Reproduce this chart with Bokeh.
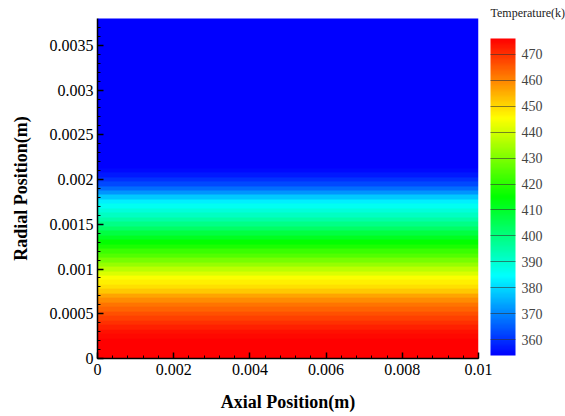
import numpy as np
from bokeh.plotting import figure
from bokeh.models import LinearColorMapper, ColorBar, FixedTicker, Title
from bokeh.embed import file_html
from bokeh.resources import INLINE

# ---- data (temperature vs radial position) ----
radial_m = [0.00000, 0.00005, 0.00010, 0.00015, 0.00020, 0.00025, 0.00030, 0.00035,
            0.00040, 0.00045, 0.00050, 0.00055, 0.00060, 0.00065, 0.00070, 0.00075,
            0.00080, 0.00085, 0.00090, 0.00095, 0.00100, 0.00105, 0.00110, 0.00115,
            0.00120, 0.00125, 0.00130, 0.00135, 0.00140, 0.00145, 0.00150, 0.00155,
            0.00160, 0.00165, 0.00170, 0.00175, 0.00180, 0.00185, 0.00190, 0.00195,
            0.00200, 0.00205, 0.00210, 0.00215, 0.00220, 0.00225, 0.00230, 0.00235,
            0.00240, 0.00245, 0.00250, 0.00255, 0.00260, 0.00265, 0.00270, 0.00275,
            0.00280, 0.00285, 0.00290, 0.00295, 0.00300, 0.00305, 0.00310, 0.00315,
            0.00320, 0.00325, 0.00330, 0.00335, 0.00340, 0.00345, 0.00350, 0.00355,
            0.00360, 0.00365, 0.00370, 0.00375, 0.00380]
temperature_k = [476, 476, 476, 476, 476, 475, 474, 472,
                 470, 468, 466, 464, 462, 459, 456, 452,
                 449, 447, 445, 441, 437, 433, 429, 425,
                 422, 418, 415, 411, 407, 403, 399, 395,
                 392, 389, 386, 383, 378, 372, 367, 363,
                 360, 357, 355, 354, 354, 354, 354, 354,
                 354, 354, 354, 354, 354, 354, 354, 354,
                 354, 354, 354, 354, 354, 354, 354, 354,
                 354, 354, 354, 354, 354, 354, 354, 354,
                 354, 354, 354, 354, 354]
axial_length_m = 0.01
radial_max_m = 0.0038
x_ticks = [0, 0.002, 0.004, 0.006, 0.008, 0.01]
x_tick_labels = ["0", "0.002", "0.004", "0.006", "0.008", "0.01"]
y_ticks = [0, 0.0005, 0.001, 0.0015, 0.002, 0.0025, 0.003, 0.0035]
y_tick_labels = ["0", "0.0005", "0.001", "0.0015", "0.002", "0.0025", "0.003", "0.0035"]
cbar_ticks = [360, 370, 380, 390, 400, 410, 420, 430, 440, 450, 460, 470]
cbar_tick_labels = ["360", "370", "380", "390", "400", "410", "420", "430",
                    "440", "450", "460", "470"]
t_low, t_high = 354, 476

# ---- rainbow palette: blue -> cyan -> green -> yellow -> red ----
stops = [(0, 0, 255), (0, 255, 255), (0, 255, 0), (255, 255, 0), (255, 0, 0)]
palette = []
n = 256
for i in range(n):
    f = i / (n - 1) * (len(stops) - 1)
    k = min(int(f), len(stops) - 2)
    t = f - k
    c = [round(stops[k][j] + (stops[k + 1][j] - stops[k][j]) * t) for j in range(3)]
    palette.append("#%02x%02x%02x" % tuple(c))

mapper = LinearColorMapper(palette=palette, low=t_low, high=t_high)

FONT = "Liberation Serif"

p = figure(width=565, height=416, output_backend="svg", toolbar_location=None,
           x_range=(0, axial_length_m), y_range=(0, radial_max_m),
           min_border_left=97, min_border_right=87, min_border_top=18,
           min_border_bottom=58)
p.grid.visible = False
p.outline_line_color = None
p.background_fill_color = "white"

field = np.array(temperature_k, dtype=float)[:, None] * np.ones((1, 2))
dr = radial_m[1] - radial_m[0]
p.image(image=[field], x=0, y=radial_m[0] - dr / 2, dw=axial_length_m,
        dh=len(radial_m) * dr, color_mapper=mapper)

# axes
p.xaxis.ticker = FixedTicker(ticks=x_ticks,
                             minor_ticks=list(np.arange(0, 0.01001, 0.0004)))
p.xaxis.major_label_overrides = {t: l for t, l in zip(x_ticks, x_tick_labels)}
p.yaxis.ticker = FixedTicker(ticks=y_ticks,
                             minor_ticks=list(np.arange(0, 0.0038, 0.0001)))
p.yaxis.major_label_overrides = {t: l for t, l in zip(y_ticks, y_tick_labels)}

for ax in (p.xaxis[0], p.yaxis[0]):
    ax.major_tick_in = 6
    ax.major_tick_out = 0
    ax.minor_tick_in = 3
    ax.minor_tick_out = 0
    ax.axis_line_color = "black"
    ax.axis_line_width = 1.5
    ax.major_tick_line_color = "black"
    ax.major_tick_line_width = 1.5
    ax.minor_tick_line_color = "black"
    ax.major_label_text_font = FONT
    ax.major_label_text_font_size = "16px"
    ax.major_label_text_color = "black"
    ax.axis_label_text_font = FONT
    ax.axis_label_text_font_size = "18px"
    ax.axis_label_text_font_style = "bold"
    ax.axis_label_text_color = "black"

p.xaxis.axis_label = "Axial Position(m)"
p.yaxis.axis_label = "Radial Position(m)"
p.xaxis.major_label_standoff = 5
p.yaxis.major_label_standoff = 4
p.xaxis.axis_label_standoff = 14
p.yaxis.axis_label_standoff = 16

cb = ColorBar(color_mapper=mapper, width=25, height=317, location=(393, 3),
              ticker=FixedTicker(ticks=cbar_ticks),
              major_label_overrides={t: l for t, l in zip(cbar_ticks, cbar_tick_labels)},
              title=None,
              major_label_text_font=FONT, major_label_text_font_size="14px",
              label_standoff=6, major_tick_in=25, major_tick_out=0,
              major_tick_line_color="#333333", major_tick_line_alpha=0.6,
              minor_tick_line_color=None, bar_line_color=None,
              margin=0, padding=0, background_fill_color=None,
              border_line_color=None)
p.add_layout(cb)

cb_title = Title(text="Temperature(k)", align="left", offset=393, standoff=-3,
                 text_font=FONT, text_font_size="12px", text_font_style="normal",
                 text_color="#222222")
p.add_layout(cb_title, "above")

open("out.html", "w").write(file_html(p, INLINE))
